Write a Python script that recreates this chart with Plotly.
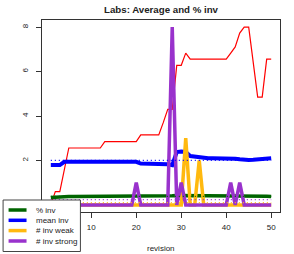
import numpy as np
import plotly.graph_objects as go

revision = list(range(1, 51))

avg_red = [0.0, 0.6, 0.6, 1.6,
           2.56, 2.56, 2.56, 2.56, 2.56, 2.56, 2.56, 2.56,
           2.85, 2.85, 2.85, 2.85, 2.85, 2.85, 2.85, 2.85,
           3.15, 3.15, 3.15, 3.15, 3.15,
           3.7, 4.3, 4.3, 6.28, 6.28, 6.83,
           6.56, 6.56, 6.56, 6.56, 6.56, 6.56, 6.56, 6.56, 6.56,
           6.83, 7.11, 7.73, 8.0, 8.0, 6.4, 4.85, 4.85, 6.56, 6.56]

pct_inv = [0.33, 0.35, 0.37, 0.37, 0.38, 0.38, 0.38, 0.38, 0.38, 0.38,
           0.38, 0.38, 0.38, 0.38, 0.38, 0.38, 0.38, 0.38, 0.38, 0.38,
           0.38, 0.38, 0.38, 0.38, 0.38, 0.38, 0.39, 0.41, 0.42, 0.42,
           0.41, 0.40, 0.39, 0.39, 0.39, 0.39, 0.39, 0.39, 0.39, 0.39,
           0.39, 0.39, 0.39, 0.39, 0.39, 0.40, 0.40, 0.40, 0.39, 0.38]

mean_inv = [1.79, 1.79, 1.79, 1.94, 1.94, 1.94, 1.94, 1.94, 1.94, 1.94,
            1.94, 1.94, 1.94, 1.94, 1.94, 1.94, 1.94, 1.94, 1.94, 1.94,
            1.86, 1.86, 1.86, 1.86, 1.86, 1.86, 1.83, 1.79, 2.38, 2.40,
            2.38, 2.20, 2.17, 2.15, 2.12, 2.10, 2.10, 2.10, 2.10, 2.10,
            2.08, 2.08, 2.05, 2.02, 2.02, 2.03, 2.05, 2.07, 2.08, 2.10]

inv_weak = [0] * 30 + [3, 0, 0, 2] + [0] * 16

inv_strong = ([0] * 19 + [1] + [0] * 7 + [8, 0, 1] + [0] * 10
              + [1, 0, 1] + [0] * 7)

legend_labels = ["% inv", "mean inv", "# inv weak", "# inv strong"]
legend_colors = ["#006400", "#0000FF", "#FFB90F", "#9932CC"]
series = [pct_inv, mean_inv, inv_weak, inv_strong]
widths = [3.5, 4, 3.5, 3.5]

FONT = "Liberation Sans, Arial, Helvetica, sans-serif"

fig = go.Figure()

# main average line (red, thin)
fig.add_trace(go.Scatter(x=revision, y=avg_red, mode="lines",
                         line=dict(color="#FF0000", width=1.2),
                         showlegend=False, hoverinfo="skip"))

for vals, col, w in zip(series, legend_colors, widths):
    fig.add_trace(go.Scatter(x=revision, y=vals, mode="lines",
                             line=dict(color=col, width=w),
                             showlegend=False, hoverinfo="skip"))

# dotted mean lines
for vals, col in zip(series, legend_colors):
    m = float(np.mean(vals))
    fig.add_trace(go.Scatter(x=[revision[0], revision[-1]], y=[m, m], mode="lines",
                             line=dict(color=col, width=1.2, dash="1px,3px"),
                             showlegend=False, hoverinfo="skip"))

# plot-area pixel geometry for the manual legend
L, R, T, B = 41.5, 280, 20, 212
W, H = 294, 254


def px(x):
    return (x - L) / (R - L)


def py(y):
    return (B - y) / (B - T)


shapes = [dict(type="rect", xref="paper", yref="paper",
               x0=px(2.5), x1=px(80), y0=py(200), y1=py(251.5),
               fillcolor="white", line=dict(color="#444", width=1), layer="above")]
annotations = []
row_y = [210, 220.3, 230.6, 241]
for lab, col, ry in zip(legend_labels, legend_colors, row_y):
    shapes.append(dict(type="line", xref="paper", yref="paper",
                       x0=px(8), x1=px(26), y0=py(ry), y1=py(ry),
                       line=dict(color=col, width=3.5), layer="above"))
    annotations.append(dict(text=lab, xref="paper", yref="paper",
                            x=px(33), y=py(ry), xanchor="left", yanchor="middle",
                            showarrow=False, font=dict(size=8, color="#222", family=FONT)))

annotations.append(dict(text="revision", xref="paper", yref="paper",
                        x=0.5, y=py(248), xanchor="center", yanchor="middle",
                        showarrow=False, font=dict(size=8, color="#222", family=FONT)))

fig.update_layout(
    width=W, height=H,
    margin=dict(l=L, r=W - R, t=T, b=H - B, pad=0),
    paper_bgcolor="white", plot_bgcolor="white",
    font=dict(family=FONT, size=8, color="#222"),
    title=dict(text="<b>Labs: Average and % inv</b>", x=0.5, xref="paper",
               y=1 - 10 / H, yref="container", xanchor="center", yanchor="middle",
               font=dict(size=9.7, color="#222", family=FONT)),
    shapes=shapes, annotations=annotations,
    showlegend=False,
)
fig.update_xaxes(range=[-0.96, 51.96], tickvals=[10, 20, 30, 40, 50],
                 showgrid=False, zeroline=False, showline=True, mirror=True,
                 linecolor="#333", linewidth=1, ticks="outside", ticklen=5,
                 tickcolor="#333", tickfont=dict(size=8), ticklabelstandoff=2)
fig.update_yaxes(range=[-0.32, 8.32], tickvals=[0, 2, 4, 6, 8],
                 showgrid=False, zeroline=False, showline=True, mirror=True,
                 linecolor="#333", linewidth=1, ticks="outside", ticklen=5,
                 tickcolor="#333", tickfont=dict(size=8), tickangle=-90,
                 ticklabelstandoff=5)

fig.write_html("out.html", config={"displayModeBar": False},
               post_script="document.body.style.margin='0';document.body.style.padding='0';")
